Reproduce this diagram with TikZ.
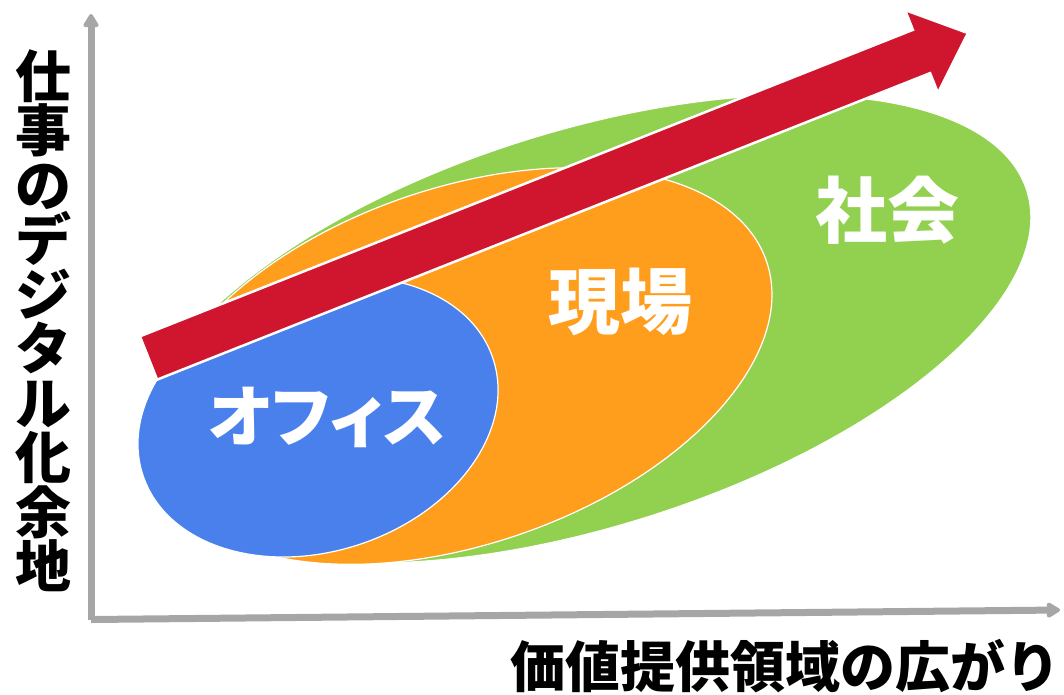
\documentclass[tikz,border=0pt]{standalone}
\usepackage{fontspec}
\setmainfont{Noto Sans CJK JP}
\newfontfamily\cjkp{Noto Sans CJK JP}[RawFeature=+palt]
\usetikzlibrary{arrows.meta}
\definecolor{cgreen}{RGB}{146,208,80}
\definecolor{corange}{RGB}{255,158,28}
\definecolor{cblue}{RGB}{74,128,236}
\definecolor{cred}{RGB}{208,21,46}
\definecolor{caxis}{RGB}{166,166,166}
\tikzset{
  region/.style={draw=white, line width=1.2pt},
  axisline/.style={draw=caxis, line width=7pt, -{Triangle[length=15pt,width=17pt,round]}},
  axislabel/.style={font=\bfseries\fontsize{56}{54.5}\selectfont, text=black, inner sep=0pt, align=center},
  regionlabel/.style={font=\bfseries\fontsize{72}{72}\selectfont, text=white, inner sep=0pt},
}
\begin{document}
\begin{tikzpicture}[x=1pt,y=-1pt]
\useasboundingbox (0,0) rectangle (1064,694);
% axes
\coordinate (O) at (91,619.5);
\coordinate (Ytop) at (91,14);
\coordinate (Xend) at (1060,610);
\draw[axisline] (O) -- (Ytop);
\draw[axisline] (O) -- (Xend);
% regions
\fill[cgreen, region] (585,329) ellipse [x radius=463pt, y radius=198pt, rotate=17.35];
\fill[corange, region] (462,366) ellipse [x radius=322pt, y radius=178pt, rotate=19];
\fill[cblue, region] (318,417) ellipse [x radius=184.5pt, y radius=134pt, rotate=18.6];
% red arrow
\begin{scope}[shift={(148.5,358)}, rotate=21.63]
\fill[cred, draw=white, line width=2.5pt, line join=miter]
  (0,-23.3) -- (831.6,-23.3) -- (831.6,-44.6) -- (881.6,0) -- (831.6,44.6) -- (831.6,23.3) -- (0,23.3) -- cycle;
\end{scope}
% labels
\node[regionlabel, font=\bfseries\fontsize{67}{67}\selectfont] (office) at (327,417) {\cjkp オフィス};
\node[regionlabel] (genba) at (620,302) {現場};
\node[regionlabel] (shakai) at (887,210) {社会};
\node[axislabel] (ylab) at (43.5,320.5) {仕\\事\\の\\デ\\ジ\\タ\\ル\\化\\余\\地};
\node[axislabel, font=\bfseries\fontsize{55}{55}\selectfont] (xlab) at (785,666) {価値提供領域の広がり};
\end{tikzpicture}
\end{document}
